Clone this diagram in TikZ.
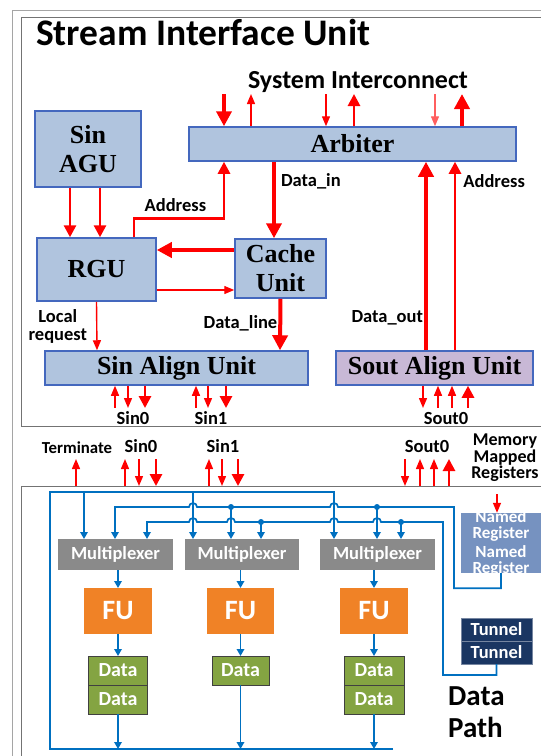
\documentclass[tikz,border=0pt]{standalone}
\usepackage{fontspec}
\setmainfont{Liberation Serif}
\setsansfont{Carlito}
\usetikzlibrary{arrows.meta,positioning}
\definecolor{myred}{RGB}{255,0,0}
\definecolor{mylightred}{RGB}{255,95,95}
\definecolor{myunitfill}{RGB}{176,196,222}
\definecolor{myunitline}{RGB}{68,104,190}
\definecolor{myoutfill}{RGB}{200,184,214}
\definecolor{mywire}{RGB}{0,112,192}
\definecolor{mymux}{RGB}{138,138,138}
\definecolor{myfu}{RGB}{240,130,38}
\definecolor{mydata}{RGB}{132,164,66}
\definecolor{myreg}{RGB}{118,146,192}
\definecolor{mytunnel}{RGB}{26,54,98}
\definecolor{myframe}{RGB}{115,115,115}
\definecolor{myframeout}{RGB}{165,165,165}
\newcommand{\lblfont}[1]{\sffamily\bfseries\fontsize{#1}{18}\selectfont}
\tikzset{
    unit/.style={draw=myunitline, fill=myunitfill, line width=1.5pt, align=center, inner sep=0pt,
        font=\bfseries\fontsize{26}{29}\selectfont},
    lbl/.style={font=\lblfont{18.5}, text=black, inner sep=1pt, align=center},
    sigthinout/.style={myred, line width=1.4pt, -{Triangle[length=10pt,width=8pt]}},
    sigthinin/.style={myred, line width=1.4pt, {Triangle[length=10pt,width=8pt]}-},
    sigmedout/.style={myred, line width=2.8pt, -{Triangle[length=12pt,width=12pt]}},
    sigmedin/.style={myred, line width=2.8pt, {Triangle[length=12pt,width=12pt]}-},
    sigthickout/.style={myred, line width=4pt, -{Triangle[length=15pt,width=15pt]}},
    sigthickin/.style={myred, line width=4pt, {Triangle[length=15pt,width=15pt]}-},
    wire/.style={mywire, line width=1.7pt},
    wirearr/.style={wire, -{Triangle[length=7pt,width=7.5pt]}},
    whitebox/.style={text=white, inner sep=0pt, outer sep=0pt, font=\sffamily\bfseries\fontsize{#1}{#1}\selectfont},
    mux/.style={whitebox=18.5, fill=mymux, minimum width=115pt, minimum height=31pt},
    fu/.style={whitebox=28, fill=myfu, minimum width=68pt, minimum height=46pt},
    databox/.style={whitebox=20, fill=mydata, draw=black!75, line width=0.8pt, minimum width=59pt, minimum height=29pt},
    tunnelbox/.style={whitebox=18.5, fill=mytunnel, draw=mytunnel!60!white, line width=0.8pt, minimum width=71pt, minimum height=23pt},
    regtext/.style={text=white, inner sep=0pt, align=center, font=\sffamily\bfseries\fontsize{17}{16}\selectfont},
    frame/.style={draw=myframe, line width=1.2pt, inner sep=0pt}
}
\begin{document}
\begin{tikzpicture}[x=1pt, y=-1pt]
    \useasboundingbox (0,0) rectangle (541,756);
    \draw[myframeout, line width=1pt] (570,10) -- (12,10) -- (12,770);
    \node[frame, anchor=north west, minimum width=560pt, minimum height=409pt] (siu) at (21,17) {};
    \node[frame, anchor=north west, minimum width=560pt, minimum height=300pt] (dp) at (21,486) {};

    \node[font=\sffamily\bfseries\fontsize{37.5}{37}\selectfont, anchor=base west, inner sep=0pt] (siutitle) at (36,45) {Stream Interface Unit};
    \node[lbl, font=\lblfont{26}, anchor=base] (sysint) at (358,88) {System Interconnect};

    \node[unit, minimum width=106pt, minimum height=76pt] (agu) at (88,149) {Sin\\AGU};
    \node[unit, minimum width=327pt, minimum height=34pt] (arb) at (352.5,144) {Arbiter};
    \node[unit, minimum width=119pt, minimum height=63pt] (rgu) at (96.5,269.5) {RGU};
    \node[unit, minimum width=91pt, minimum height=59pt] (cache) at (280.5,268.5) {Cache\\Unit};
    \node[unit, minimum width=263pt, minimum height=34pt] (sinal) at (176.5,368) {Sin Align Unit};
    \node[unit, fill=myoutfill, minimum width=197pt, minimum height=34pt] (soutal) at (434.5,368) {Sout Align Unit};

    \foreach \x/\s in {224/sigthickin, 251/sigthinout, 326/sigthinin, 354/sigmedout, 462/sigthickout}{
        \coordinate (si\x) at (\x,94);
        \draw[\s] (si\x |- arb.north) -- (si\x);
    }
    \coordinate (si435) at (435,94);
    \draw[sigthinin, mylightred] (si435 |- arb.north) -- (si435);

    \draw[sigmedout] ([xshift=37.5pt]rgu.north) -- ++(0,-19) -| node[lbl, pos=0.23, above=4pt] (adrlbl) {Address} ([xshift=-128.5pt]arb.south);
    \draw[sigthickout] ([xshift=-78.5pt]arb.south) -- node[lbl, right=4pt, pos=0.26] (datainlbl) {Data\_in} ([xshift=-6.5pt]cache.north);
    \draw[sigthickout] ([xshift=-8.5pt]soutal.north) -- node[lbl, left=0pt, pos=0.17] (doutlbl) {Data\_out} ([xshift=73.5pt]arb.south);
    \draw[sigmedout] ([xshift=20.5pt]soutal.north) -- node[lbl, right=6pt, pos=0.9] (adr2lbl) {Address} ([xshift=102.5pt]arb.south);
    \draw[sigmedout] ([xshift=-18pt]agu.south) -- ([xshift=-26.5pt]rgu.north);
    \draw[sigmedout] ([xshift=12pt]agu.south) -- ([xshift=3.5pt]rgu.north);
    \draw[sigthickout] ([yshift=18.5pt]cache.west) -- ([yshift=19.5pt]rgu.east);
    \draw[sigthinout] ([yshift=-20.5pt]rgu.east) -- ([yshift=-21.5pt]cache.west);
    \draw[sigthinout] (rgu.south) -- node[lbl, left=8pt, pos=0.5] (loclbl) {Local\\request} ([xshift=-79.5pt]sinal.north);
    \draw[sigthickout] (cache.south) -- node[lbl, left=0pt, pos=0.47] (dlinelbl) {Data\_line} ([xshift=103.5pt]sinal.north);

    \foreach \x/\s in {115/sigthinin, 128/sigthinout, 145/sigmedout, 196/sigthinin, 208/sigthinout, 226/sigmedout}{
        \coordinate (sa\x) at (\x,408);
        \draw[\s] (sa\x |- sinal.south) -- (sa\x);
    }
    \foreach \x/\s in {423/sigthinout, 438/sigthinin, 452/sigthinin, 468/sigmedin}{
        \coordinate (so\x) at (\x,408);
        \draw[\s] (so\x |- soutal.south) -- (so\x);
    }
    \node[lbl] (sin0top) at (133,418) {Sin0};
    \node[lbl] (sin1top) at (211,418) {Sin1};
    \node[lbl] (sout0top) at (446,418) {Sout0};

    \node[lbl, font=\lblfont{16.8}] (termlbl) at (77,448) {Terminate};
    \node[lbl] (sin0bot) at (141,446) {Sin0};
    \node[lbl] (sin1bot) at (223,446) {Sin1};
    \node[lbl] (sout0bot) at (427,446) {Sout0};
    \node[lbl, font=\sffamily\bfseries\fontsize{18}{16.5}\selectfont] (mmrlbl) at (505,458) {Memory\\Mapped\\Registers};
    \foreach \x/\s in {76/sigthinout, 125/sigthinout, 139/sigthinin, 156/sigmedin, 209/sigthinout, 222/sigthinin, 238/sigmedin, 405/sigthinin, 420/sigthinout, 434/sigthinout, 449/sigmedout}{
        \coordinate (dp\x) at (\x,459);
        \draw[\s] (dp\x |- dp.north) -- (dp\x);
    }

    \node[fill=myreg, minimum width=80pt, minimum height=60pt, inner sep=0pt,
        label={[regtext]center:{Named\\Register\\[3pt]Named\\Register}}] (named) at (501,543) {};
    \coordinate (mmr) at (497,494);
    \draw[sigthinin] (mmr |- named.north) -- (mmr);
    \node[tunnelbox] (tunnel1) at (496.5,629.5) {Tunnel};
    \node[tunnelbox, below=0pt of tunnel1] (tunnel2) {Tunnel};

    \node[mux] (mux1) at (115.5,554.5) {Multiplexer};
    \node[mux, minimum width=114pt] (mux2) at (242,554.5) {Multiplexer};
    \node[mux] (mux3) at (377.5,554.5) {Multiplexer};
    \node[fu] (fu1) at (118,611) {FU};
    \node[fu, minimum width=67pt] (fu2) at (240.5,611) {FU};
    \node[fu] (fu3) at (374,611) {FU};
    \node[databox, below=22pt of fu1] (data1a) {Data};
    \node[databox, below=0pt of data1a] (data1b) {Data};
    \node[databox, minimum width=57pt, below=22pt of fu2] (data2) {Data};
    \node[databox, minimum width=60pt, below=22pt of fu3] (data3a) {Data};
    \node[databox, minimum width=60pt, below=0pt of data3a] (data3b) {Data};
    \node[font=\sffamily\bfseries\fontsize{29}{32}\selectfont, align=left, anchor=west, inner sep=0pt] (dplbl) at (448,712) {Data\\Path};

    \foreach \n in {1,2,3}{
        \draw[wirearr] (mux\n.south -| fu\n) -- (fu\n);
        \draw[wirearr] (fu\n) -- (data\ifnum\n=2 2\else\n a\fi);
    }
    \coordinate (busl) at (50,749);
    \coordinate (busr) at (393,749);
    \coordinate (topr) at (334,492);
    \foreach \d in {data1b, data2, data3b}
        \draw[wirearr] (\d) -- (\d |- busl);
    \draw[wirearr] (busr) -- (busl) |- (topr) -- (topr |- mux3.north);
    \foreach \x/\m in {84/mux1, 193/mux2}{
        \coordinate (ja\x) at (\x,492);
        \draw[wirearr] (ja\x) -- (ja\x |- \m.north);
    }
    \draw[wirearr] (named.south) -- ++(0,15) -| (454,507)
        -- (338,507) arc[start angle=0, end angle=180, radius=4pt]
        -- (197,507) arc[start angle=0, end angle=180, radius=4pt]
        -- (115,507) -- (115,507 |- mux1.north);
    \draw[wirearr] (tunnel2.south) -- ++(0,11) -| (443,522)
        -- (381,522) arc[start angle=0, end angle=180, radius=4pt]
        -- (338,522) arc[start angle=0, end angle=180, radius=4pt]
        -- (235,522) arc[start angle=0, end angle=180, radius=4pt]
        -- (197,522) arc[start angle=0, end angle=180, radius=4pt]
        -- (147,522) -- (147,522 |- mux1.north);
    \foreach \x/\y/\m in {231/507/mux2, 377/507/mux3, 261/522/mux2, 401/522/mux3}{
        \coordinate (jb\x) at (\x,\y);
        \fill[mywire] (jb\x) circle[radius=3pt];
        \draw[wirearr] (jb\x) -- (jb\x |- \m.north);
    }
\end{tikzpicture}
\end{document}
